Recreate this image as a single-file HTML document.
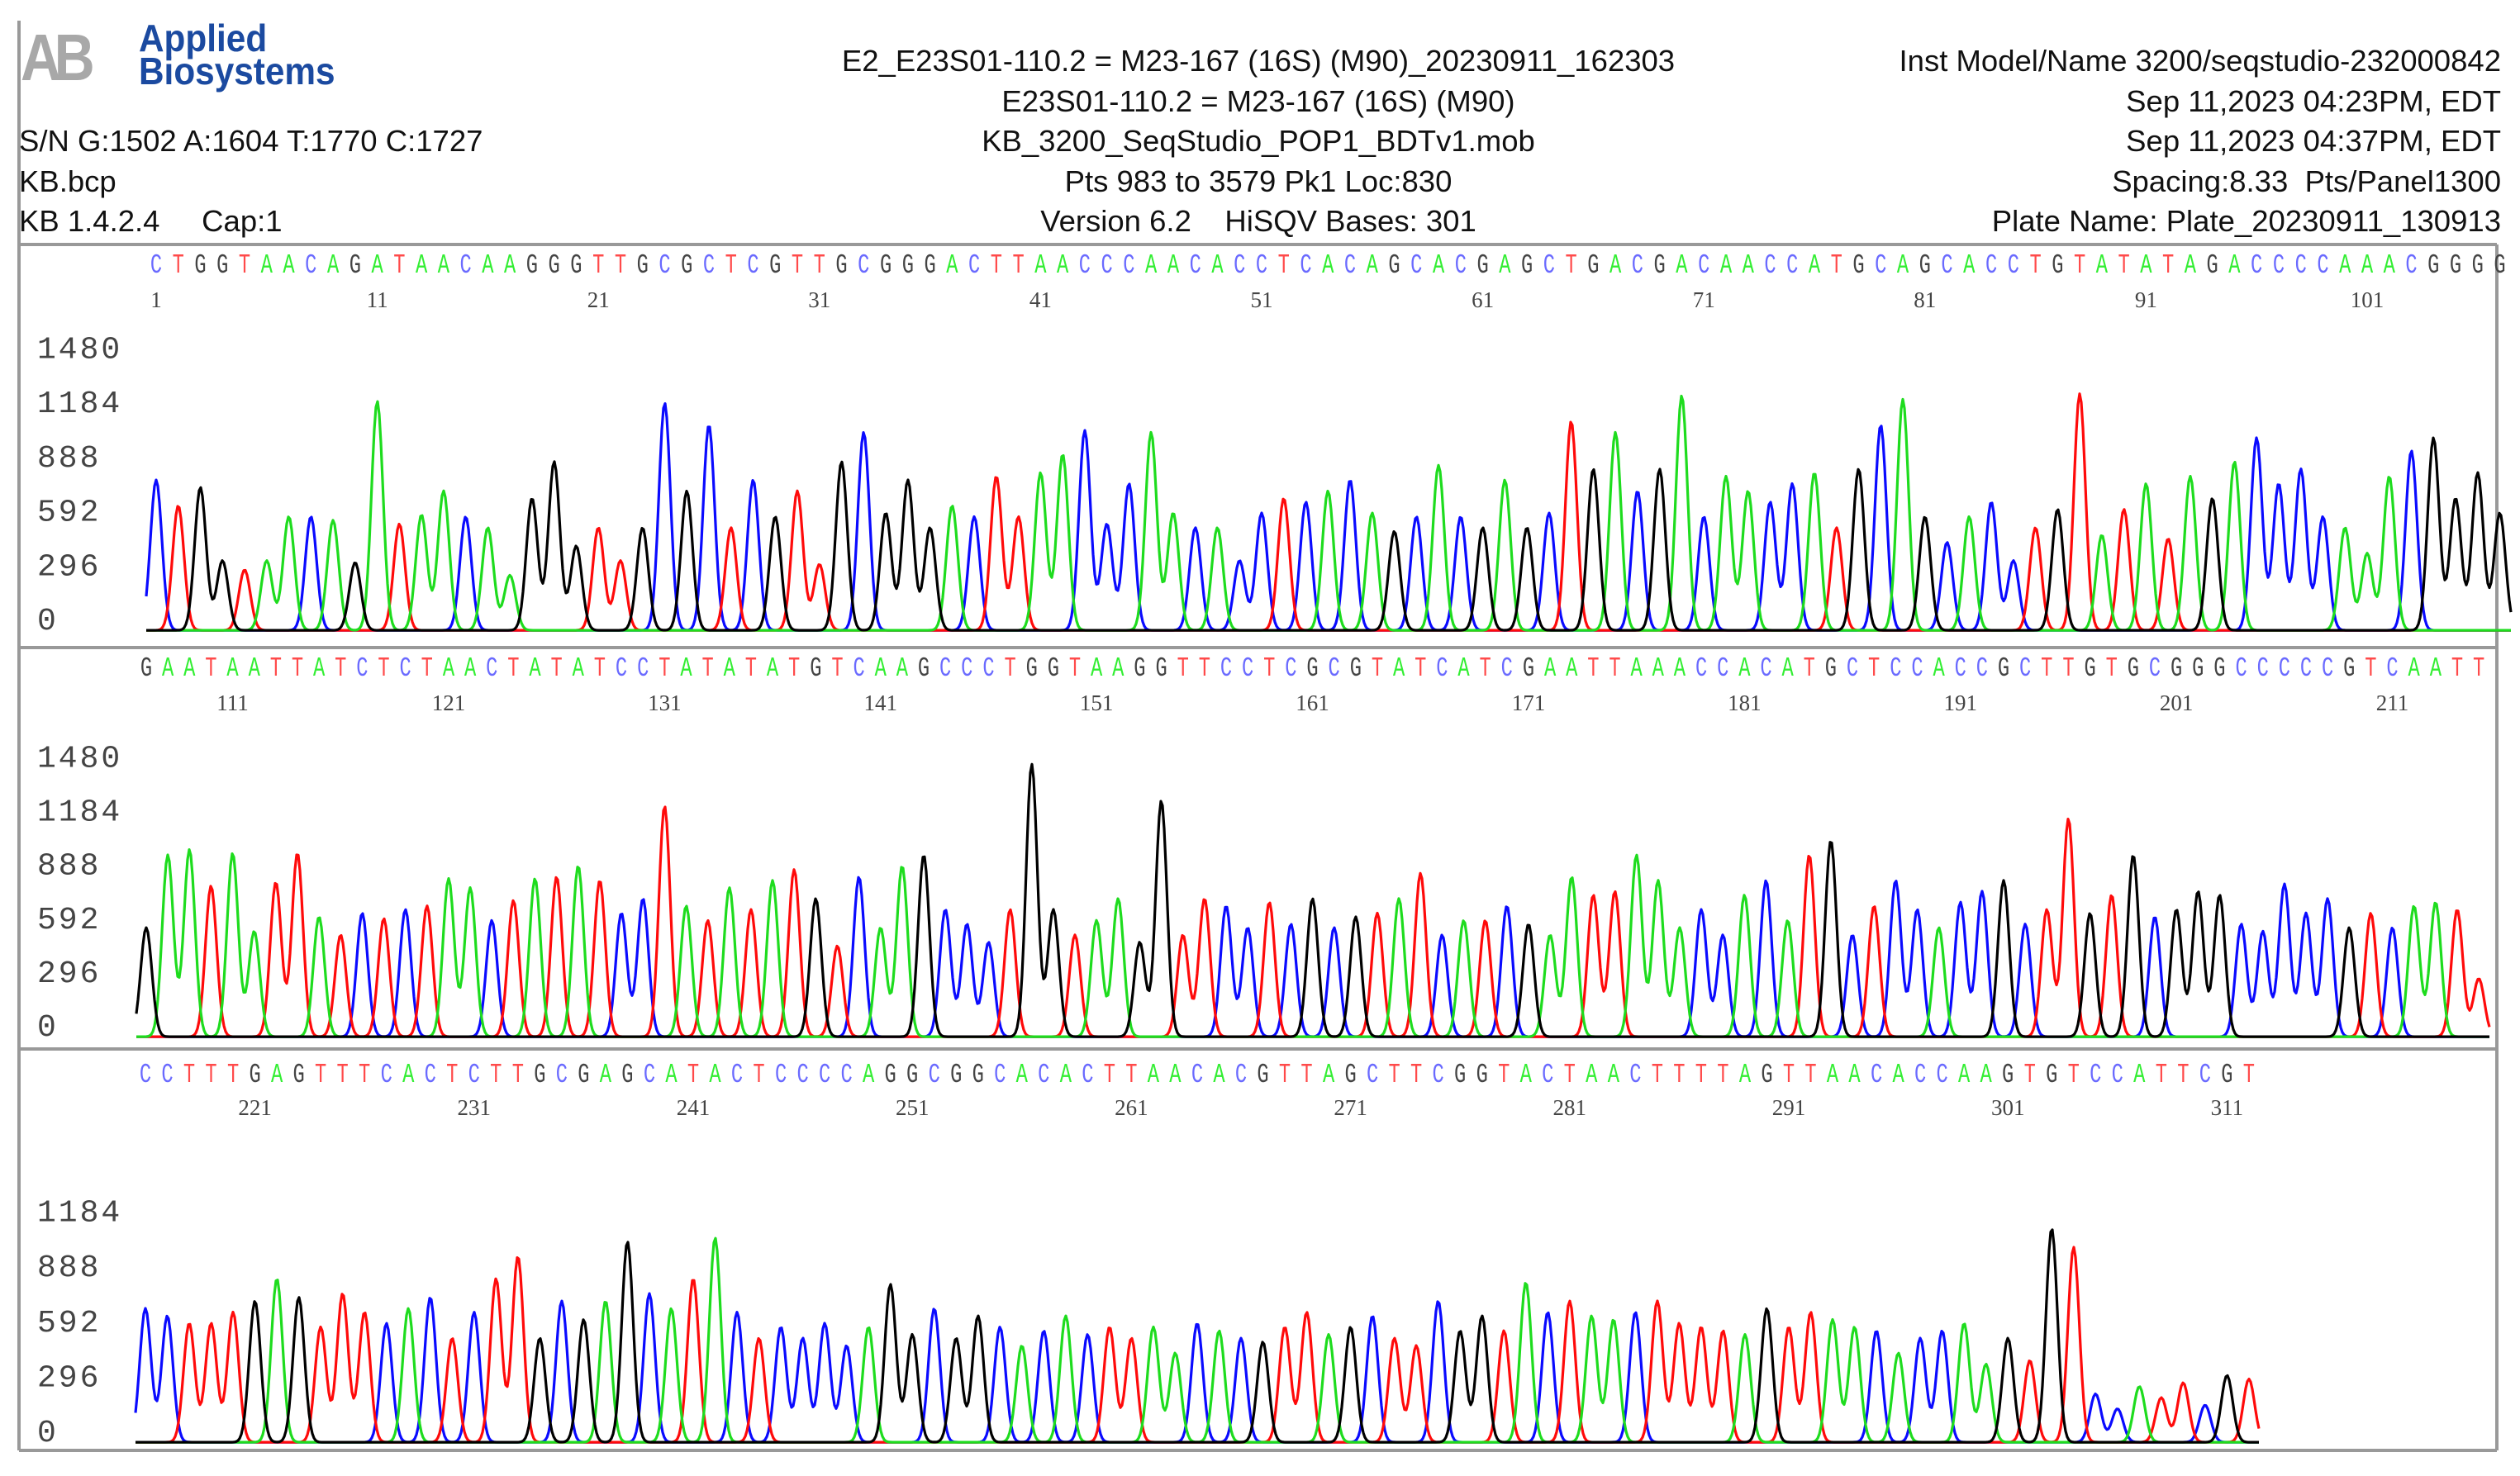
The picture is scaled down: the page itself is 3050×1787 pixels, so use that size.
<!DOCTYPE html>
<html><head><meta charset="utf-8">
<style>
html,body{margin:0;padding:0;background:#fff;}
#root{position:relative;width:3050px;height:1787px;overflow:hidden;background:#fff;font-family:"Liberation Sans",sans-serif;}
.h{position:absolute;font-size:36.5px;color:#111;white-space:nowrap;line-height:40px;}
.c{transform:translateX(-50%);}
.r{transform:translateX(-100%);}
svg{position:absolute;left:0;top:0;}
</style></head>
<body>
<div id="root">
<div class="h" style="left:25px;top:30px;font-size:80px;line-height:80px;font-weight:bold;color:#a8a8a8;letter-spacing:-10px;transform:scaleX(0.85);transform-origin:left;">AB</div>
<div class="h" style="left:168px;top:24px;font-size:46px;line-height:44px;font-weight:bold;color:#1b4aa0;transform:scaleX(0.92);transform-origin:left;">Applied</div>
<div class="h" style="left:168px;top:64px;font-size:46px;line-height:44px;font-weight:bold;color:#1b4aa0;transform:scaleX(0.92);transform-origin:left;">Biosystems</div>
<div class="h" style="left:23px;top:151px;">S/N G:1502 A:1604 T:1770 C:1727</div>
<div class="h" style="left:23px;top:200px;">KB.bcp</div>
<div class="h" style="left:23px;top:248px;">KB 1.4.2.4&nbsp;&nbsp;&nbsp;&nbsp;&nbsp;Cap:1</div>
<div class="h c" style="left:1523px;top:54px;">E2_E23S01-110.2 = M23-167 (16S) (M90)_20230911_162303</div>
<div class="h c" style="left:1523px;top:103px;">E23S01-110.2 = M23-167 (16S) (M90)</div>
<div class="h c" style="left:1523px;top:151px;">KB_3200_SeqStudio_POP1_BDTv1.mob</div>
<div class="h c" style="left:1523px;top:200px;">Pts 983 to 3579 Pk1 Loc:830</div>
<div class="h c" style="left:1523px;top:248px;">Version 6.2&nbsp;&nbsp;&nbsp;&nbsp;HiSQV Bases: 301</div>
<div class="h r" style="left:3027px;top:54px;">Inst Model/Name 3200/seqstudio-232000842</div>
<div class="h r" style="left:3027px;top:103px;">Sep 11,2023 04:23PM, EDT</div>
<div class="h r" style="left:3027px;top:151px;">Sep 11,2023 04:37PM, EDT</div>
<div class="h r" style="left:3027px;top:200px;">Spacing:8.33&nbsp;&nbsp;Pts/Panel1300</div>
<div class="h r" style="left:3027px;top:248px;">Plate Name: Plate_20230911_130913</div>
<svg id="chart" width="3050" height="1787"></svg>
</div>
<script>
const seq1 = "CTGGTAACAGATAACAAGGGTTGCGCTCGTTGCGGGACTTAACCCAACACCTCACAGCACGAGCTGACGACAACCATGCAGCACCTGTATATAGACCCCAAACGGGG";
const seq2 = "GAATAATTATCTCTAACTATATCCTATATATGTCAAGCCCTGGTAAGGTTCCTCGCGTATCATCGAATTAAACCACATGCTCCACCGCTTGTGCGGGCCCCCGTCAATT";
const seq3 = "CCTTTGAGTTTCACTCTTGCGAGCATACTCCCCAGGCGGCACACTTAACACGTTAGCTTCGGTACTAACTTTTAGTTAACACCAAGTGTCCATTCGT";
const heights1 = [820,680,780,380,330,380,620,620,600,370,1250,580,630,760,620,560,300,720,920,460,560,380,560,1240,760,1120,560,820,620,760,360,920,1080,640,820,560,680,620,840,620,860,960,1090,580,800,1080,640,560,560,380,640,720,700,760,820,640,540,620,900,620,560,820,560,640,1140,880,1080,760,880,1280,620,840,760,700,800,860,560,880,1120,1260,620,480,620,700,380,560,660,1290,520,660,800,500,840,720,920,1050,800,880,620,560,420,840,980,1050,720,860,640];
const heights2 = [600,1000,1030,830,1010,580,850,1010,660,560,680,650,700,720,870,820,640,750,870,880,940,860,680,760,1270,720,640,820,700,860,920,760,500,880,600,940,1000,700,620,520,700,1500,700,560,640,760,520,1300,560,760,720,600,740,620,760,600,660,680,760,900,560,640,640,720,620,560,880,780,800,1000,860,600,700,560,780,860,640,1000,1080,560,720,860,700,600,740,800,860,620,700,1200,680,780,1000,660,700,800,780,620,580,840,680,760,600,680,600,720,740,700,320];
const heights3 = [720,680,640,640,700,760,880,780,620,800,700,640,720,780,560,700,880,1000,560,760,660,760,1080,800,720,880,1100,700,560,620,560,640,520,620,850,580,720,560,680,620,520,600,680,580,620,560,620,480,640,600,560,540,620,700,580,620,680,560,520,760,600,680,600,860,700,760,680,660,700,760,640,620,600,580,720,620,700,660,620,600,480,560,600,640,420,560,440,1150,1050,260,180,300,240,320,200,360,340];
const ticks1 = [1480,1184,888,592,296,0];
const ticks3 = [1184,888,592,296,0];
const startBase = [1,107,216];
const numLabels1 = [1,11,21,31,41,51,61,71,81,91,101];
const numLabels2 = [111,121,131,141,151,161,171,181,191,201,211];
const numLabels3 = [221,231,241,251,261,271,281,291,301,311];

const NS="http://www.w3.org/2000/svg";
const svg=document.getElementById('chart');
const COL={A:'#1edc1e',C:'#0a0aff',G:'#000000',T:'#ff0a0a'};
const LCOL={A:'#33ee33',C:'#6a6aff',G:'#444444',T:'#ff4a4a'};
function mk(tag,attrs){const e=document.createElementNS(NS,tag);for(const k in attrs)e.setAttribute(k,attrs[k]);svg.appendChild(e);return e;}

const fr=[[23,25,23,1756],[23,296,3022,296],[23,784,3022,784],[23,1270,3022,1270],[23,1756,3022,1756],[3022,296,3022,1756]];
fr.forEach(f=>{const l=mk('line',{x1:f[0],y1:f[1],x2:f[2],y2:f[3],stroke:'#999',"stroke-width":4});

});

const panels=[
 {seq:seq1,h:heights1,ticks:ticks1,nums:numLabels1,b0:startBase[0],x1:189,dx:26.76,yl:330,yn:372,base:764,k:0.222},
 {seq:seq2,h:heights2,ticks:ticks1,nums:numLabels2,b0:startBase[1],x1:177,dx:26.14,yl:818,yn:860,base:1256,k:0.22},
 {seq:seq3,h:heights3,ticks:ticks3,nums:numLabels3,b0:startBase[2],x1:176,dx:26.52,yl:1310,yn:1350,base:1747,k:0.225}
];
panels.forEach((p,pi)=>{
 const xOf=b=>p.x1+(b-p.b0)*p.dx;
 const yOf=v=>p.base-v*p.k;
 p.ticks.forEach(t=>{const e=mk('text',{x:45,y:yOf(t)-2,"font-family":"Liberation Mono, monospace","font-size":38,fill:'#444',"letter-spacing":3});
  e.textContent=t;
  
  });
 for(let i=0;i<p.seq.length;i++){const ch=p.seq[i];const x=xOf(p.b0+i);
  const e=mk('text',{x:x,y:p.yl,"text-anchor":"middle","font-family":"Liberation Mono, monospace","font-size":33,fill:LCOL[ch],transform:`translate(${x},0) scale(0.72,1) translate(${-x},0)`});
  e.textContent=ch;
  
  }
 p.nums.forEach(n=>{const e=mk('text',{x:xOf(n),y:p.yn,"text-anchor":"middle","font-family":"Liberation Serif, serif","font-size":27,fill:'#444'});
  e.textContent=n;
  
  });
 const sig=p.dx*0.26;
 const xs=xOf(p.b0)-12, xe=xOf(p.b0+p.seq.length-1)+14;
 ['C','T','A','G'].forEach(ch=>{
  let d='';
  for(let x=xs;x<=xe;x+=2){
   let v=4;
   for(let i=0;i<p.seq.length;i++){if(p.seq[i]!==ch)continue;const c=xOf(p.b0+i);const dd=x-c;if(Math.abs(dd)>5*sig)continue;v+=p.h[i]*Math.exp(-dd*dd/(2*sig*sig));}
   d+=(d?'L':'M')+x.toFixed(1)+','+yOf(v).toFixed(1);
  }
  const e=mk('path',{d:d,fill:'none',stroke:COL[ch],"stroke-width":3.2,"stroke-linejoin":"round"});
  
  
 });
});
</script>
</body></html>
